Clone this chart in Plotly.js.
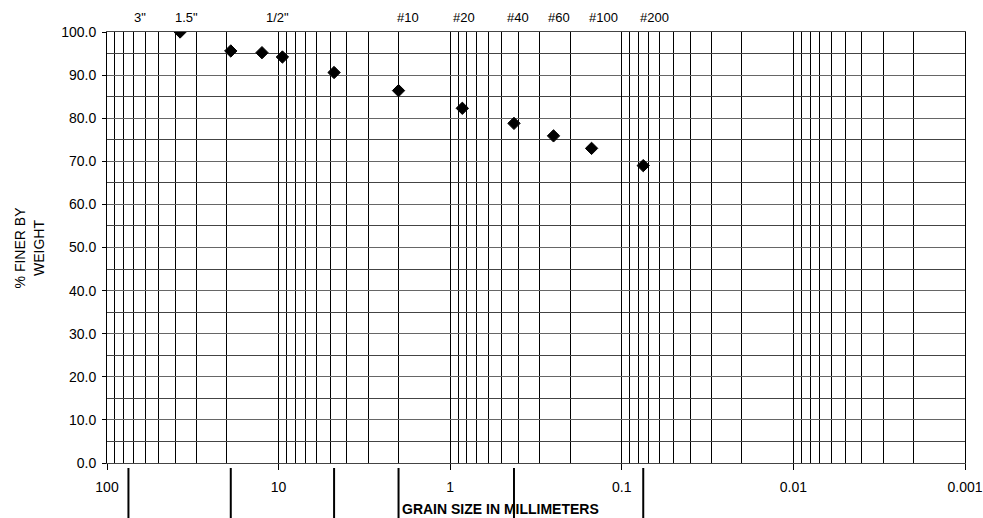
<!DOCTYPE html>
<html>
<head>
<meta charset="utf-8">
<script src="https://cdn.plot.ly/plotly-3.0.1.min.js"></script>
<style>html,body{margin:0;padding:0;background:#fff;}#chart{width:983px;height:518px;}</style>
</head>
<body>
<div id="chart"></div>
<script>
// Gradation data: grain size (mm) vs % finer by weight
var grainSizeMm = [37.5, 19, 12.5, 9.5, 4.75, 2, 0.85, 0.425, 0.25, 0.15, 0.075];
var percentFiner = [100.0, 95.6, 95.2, 94.2, 90.6, 86.4, 82.3, 78.8, 75.9, 73.0, 69.0];

// Sieve labels along the top
var sieveLabels = ['3"', '1.5"', '1/2"', '#10', '#20', '#40', '#60', '#100', '#200'];
var sieveSizesMm = [75, 37.5, 12.5, 2, 0.85, 0.425, 0.25, 0.15, 0.075];
var sieveLabelShift = [12, 6, 16, 9, 2, 4, 5, 12, 11];

// Soil classification boundaries (lines below the axis)
var boundarySizesMm = [75, 19, 4.75, 2, 0.425, 0.075];

// Axis tick labels
var xTickVals = [100, 10, 1, 0.1, 0.01, 0.001];
var xTickText = ['100', '10', '1', '0.1', '0.01', '0.001'];
var yTickVals = [0, 10, 20, 30, 40, 50, 60, 70, 80, 90, 100];
var yTickText = ['0.0', '10.0', '20.0', '30.0', '40.0', '50.0', '60.0', '70.0', '80.0', '90.0', '100.0'];

// log sub-divisions for the vertical grid
var minorX = [];
for (var e = -3; e < 2; e++) {
  for (var m = 1; m <= 9; m++) minorX.push(m * Math.pow(10, e));
}
minorX.push(100);

var font = 'Liberation Sans, Arial, sans-serif';

var annotations = sieveLabels.map(function (t, i) {
  return {
    text: t, xref: 'x', yref: 'paper',
    x: Math.log10(sieveSizesMm[i]), y: 1.0325,
    xanchor: 'center', yanchor: 'middle', xshift: sieveLabelShift[i],
    showarrow: false, font: {family: font, size: 13, color: '#000'}
  };
});
annotations.push({
  text: 'GRAIN SIZE IN MILLIMETERS', xref: 'paper', yref: 'paper',
  x: 0.459, y: -0.1067, xanchor: 'center', yanchor: 'middle', showarrow: false,
  font: {family: font, size: 14, color: '#000', weight: 'bold'}
});
annotations.push({
  text: '% FINER BY<br>WEIGHT', xref: 'paper', yref: 'paper',
  x: -0.091, y: 0.5, xanchor: 'center', yanchor: 'middle', showarrow: false,
  textangle: -90, font: {family: font, size: 14, color: '#000'}
});

var shapes = boundarySizesMm.map(function (s) {
  return {type: 'line', xref: 'x', yref: 'paper', x0: s, x1: s,
    y0: -0.0116, y1: -0.135, line: {color: '#000', width: 2}};
});

var trace = {
  x: grainSizeMm, y: percentFiner, type: 'scatter', mode: 'markers',
  marker: {symbol: 'diamond', size: 9.5, color: '#000', line: {color: '#000', width: 1}},
  hoverinfo: 'x+y'
};

var layout = {
  width: 983, height: 518,
  margin: {l: 107, r: 18, t: 32, b: 55},
  paper_bgcolor: '#fff', plot_bgcolor: '#fff',
  showlegend: false,
  font: {family: font, color: '#000', size: 14},
  xaxis: {
    type: 'log', autorange: false, range: [2, -3],
    tickmode: 'array', tickvals: xTickVals, ticktext: xTickText,
    ticks: 'outside', ticklen: 6, tickcolor: '#000', tickwidth: 1,
    ticklabelstandoff: 5,
    tickfont: {family: font, size: 14, color: '#000'},
    showgrid: true, gridcolor: '#000', gridwidth: 1,
    minor: {tickmode: 'array', tickvals: minorX, showgrid: true, gridcolor: '#000', gridwidth: 1, ticks: ''},
    showline: true, linecolor: '#444', linewidth: 1, mirror: true,
    zeroline: false
  },
  yaxis: {
    autorange: false, range: [0, 100],
    tickmode: 'array', tickvals: yTickVals, ticktext: yTickText,
    ticks: 'outside', ticklen: 4, tickcolor: '#000',
    ticklabelstandoff: 3,
    tickfont: {family: font, size: 14, color: '#000'},
    showgrid: true, gridcolor: '#666', gridwidth: 1,
    minor: {dtick: 5, showgrid: true, gridcolor: '#444', gridwidth: 1, ticks: ''},
    showline: true, linecolor: '#000', linewidth: 1, mirror: true,
    zeroline: false
  },
  annotations: annotations,
  shapes: shapes
};

Plotly.newPlot('chart', [trace], layout, {displayModeBar: false, staticPlot: true});
</script>
</body>
</html>
